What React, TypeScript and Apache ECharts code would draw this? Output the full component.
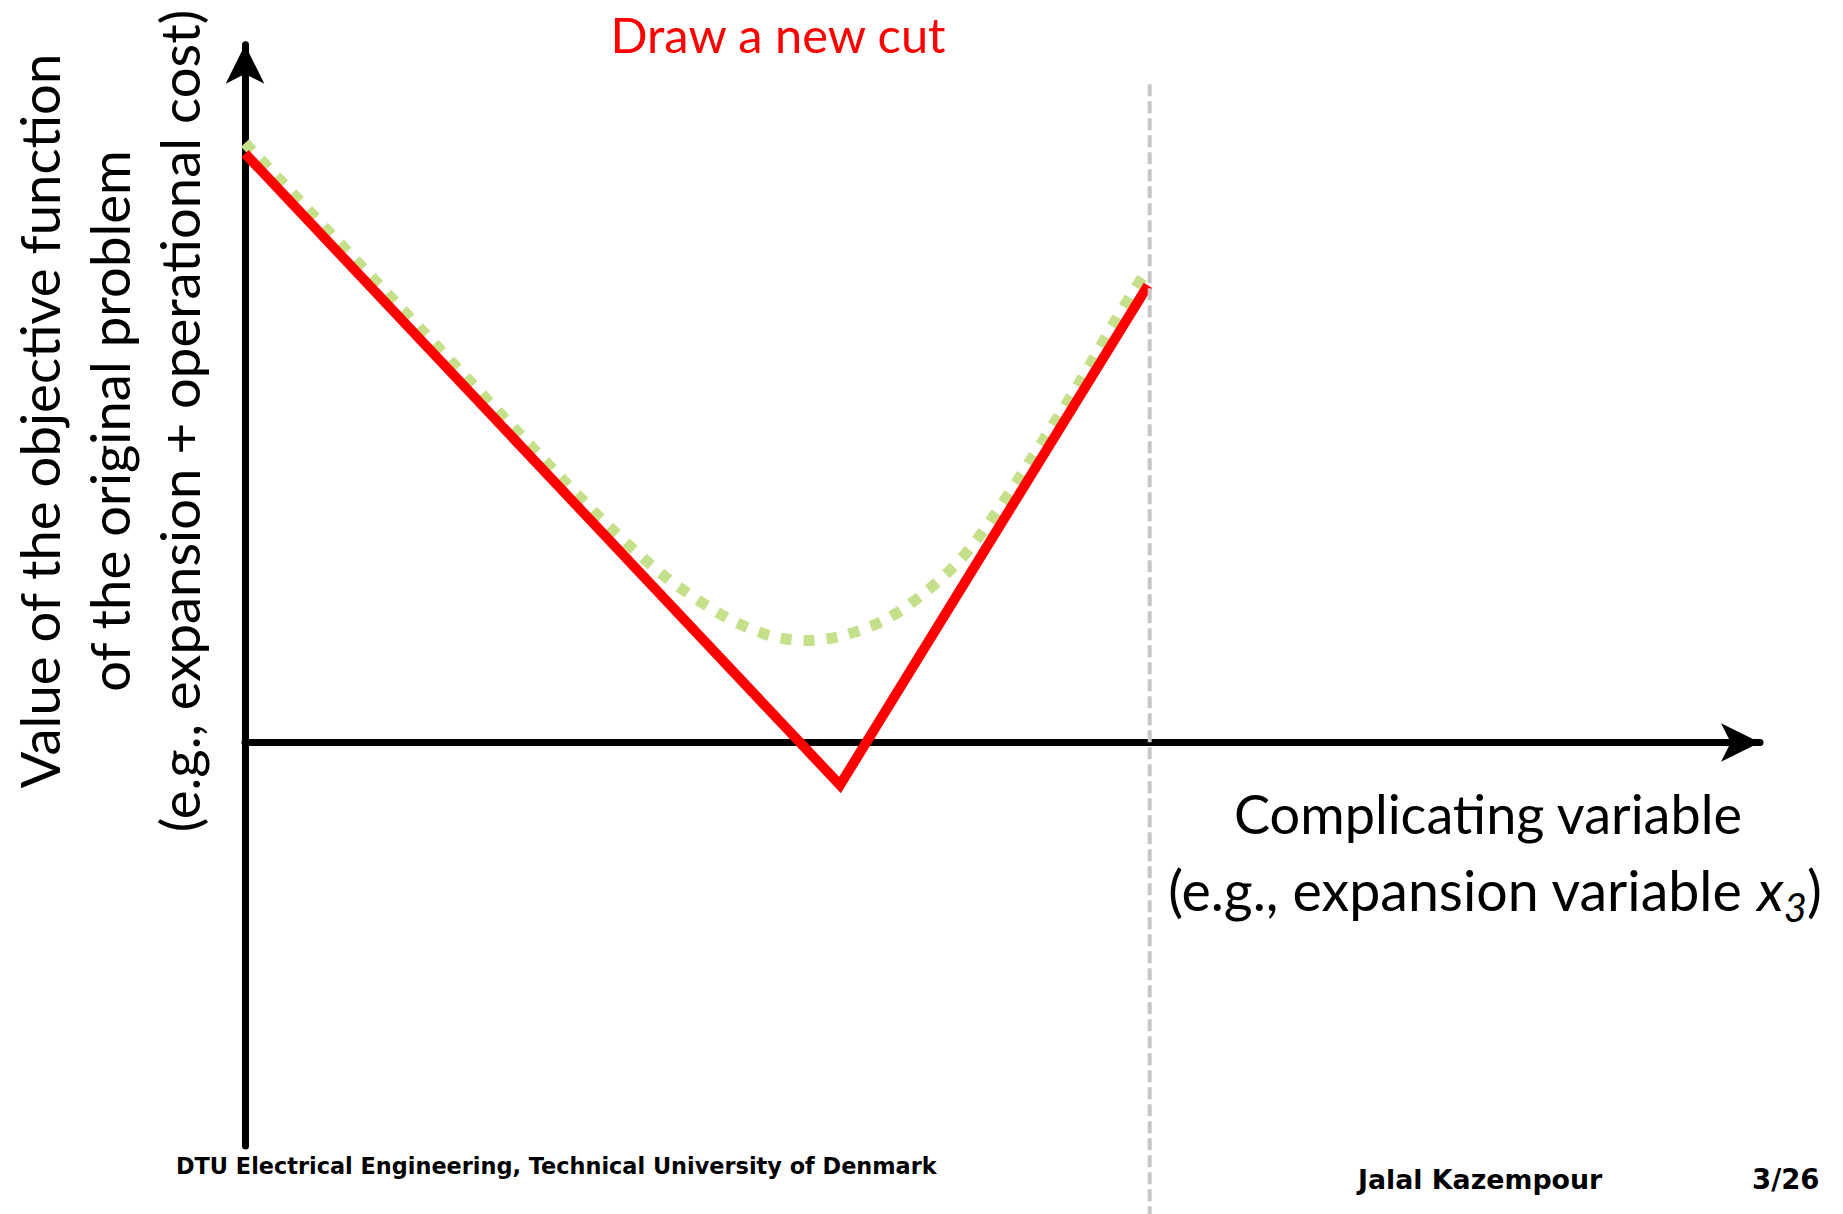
import React, { useEffect, useRef } from "react";
import * as echarts from "echarts";

// Red cut (piecewise linear): [x, y]
const cutX = [0, 5.95, 9.03];
const cutY = [5.89, -0.425, 4.572];

// Green dotted curve (true objective function)
const curveX = [0, 1.55, 3.15, 3.677, 4.21, 4.81, 5.25, 5.6, 5.967, 6.417, 6.81, 7.16, 7.45, 7.85, 8.35, 8.717, 9.02];
const curveY = [5.995, 4.355, 2.658, 2.125, 1.652, 1.252, 1.068, 1.02, 1.065, 1.235, 1.508, 1.835, 2.208, 2.815, 3.608, 4.242, 4.725];

// Gray dashed bound
const boundX = [9.047, 9.047];
const boundY = [6.582, -4.715];

const xRange = [0, 15.15];
const yRange = [-4.035, 6.978];

const titleText = "Draw a new cut";
const yLabelLines = [
  "Value of the objective function",
  "of the original problem",
  "(e.g., expansion + operational cost)",
];
const xLabelLine1 = "Complicating variable";
const xLabelLine2Parts = ["(e.g., expansion variable ", "x", "3", ")"];
const footerLeft = "DTU Electrical Engineering, Technical University of Denmark";
const footerAuthor = "Jalal Kazempour";
const footerPage = "3/26";

const zip = (xs: number[], ys: number[]) => xs.map((x, i) => [x, ys[i]]);

const MAIN_FONT = "Lato, 'Open Sans', sans-serif";
const FOOT_FONT = "'DejaVu Sans', Verdana, sans-serif";

function measure(text: string, font: string): number {
  const c = document.createElement("canvas").getContext("2d");
  if (!c) return text.length * 25;
  c.font = font;
  return c.measureText(text).width;
}

export default function App() {
  const ref = useRef<HTMLDivElement>(null);
  useEffect(() => {
    if (!ref.current) return;
    const chart = echarts.init(ref.current, null, { renderer: "svg" });
    const axisLine = {
      show: true,
      onZero: true,
      symbol: ["none", "arrow"],
      symbolSize: [29, 39],
      lineStyle: { color: "#000000", width: 7 },
    };

    // second x-label line laid out as segments (subscript lowered)
    const segStyles = [
      { size: 55.5, italic: false, dy: 0 },
      { size: 57, italic: true, dy: 0 },
      { size: 40, italic: true, dy: 18 },
      { size: 55.5, italic: false, dy: 0 },
    ];
    const segFonts = segStyles.map(
      (s) => `${s.italic ? "italic " : ""}${s.size}px Lato`
    );
    const segWidths = xLabelLine2Parts.map((t, i) => measure(t, segFonts[i]));
    const total = segWidths.reduce((a, b) => a + b, 0);
    const line2CenterX = 1495;
    const line2Y = 889;
    let cursor = line2CenterX - total / 2;
    const line2Elements = xLabelLine2Parts.map((t, i) => {
      const el = {
        type: "text",
        x: cursor,
        y: line2Y + segStyles[i].dy,
        style: {
          text: t,
          fill: "#000000",
          fontSize: segStyles[i].size,
          fontStyle: segStyles[i].italic ? "italic" : "normal",
          fontFamily: MAIN_FONT,
          align: "left",
          verticalAlign: "middle",
          textAlign: "left",
          textVerticalAlign: "middle",
        },
      };
      cursor += segWidths[i];
      return el;
    });

    chart.setOption({
      animation: false,
      backgroundColor: "#ffffff",
      grid: { left: 245, right: 83, top: 44.7, bottom: 68, containLabel: false },
      xAxis: {
        type: "value",
        min: xRange[0],
        max: xRange[1],
        axisLine,
        axisTick: { show: false },
        axisLabel: { show: false },
        splitLine: { show: false },
      },
      yAxis: {
        type: "value",
        min: yRange[0],
        max: yRange[1],
        axisLine,
        axisTick: { show: false },
        axisLabel: { show: false },
        splitLine: { show: false },
      },
      series: [
        {
          type: "line",
          name: "curve",
          data: zip(curveX, curveY),
          symbol: "none",
          smooth: 0.3,
          z: 2,
          lineStyle: { color: "#c5e08a", width: 11, type: [11, 12], cap: "butt" },
        },
        {
          type: "line",
          name: "cut",
          data: zip(cutX, cutY),
          symbol: "none",
          z: 3,
          lineStyle: { color: "#ff0000", width: 10, join: "miter", cap: "butt" },
        },
        {
          type: "line",
          name: "bound",
          data: zip(boundX, boundY),
          symbol: "none",
          clip: false,
          z: 4,
          lineStyle: { color: "#c6c6c6", width: 4, type: [12, 5] },
        },
      ],
      graphic: [
        {
          type: "text",
          x: 778,
          y: 34,
          style: {
            text: titleText,
            fill: "#ff0000",
            fontSize: 48.8,
            fontFamily: MAIN_FONT,
            align: "center",
            verticalAlign: "middle",
            textAlign: "center",
            textVerticalAlign: "middle",
          },
        },
        {
          type: "text",
          x: 108.5,
          y: 421,
          rotation: Math.PI / 2,
          style: {
            text: yLabelLines.join("\n"),
            fill: "#000000",
            fontSize: 54.5,
            lineHeight: 70,
            fontFamily: MAIN_FONT,
            align: "center",
            verticalAlign: "middle",
            textAlign: "center",
            textVerticalAlign: "middle",
          },
        },
        {
          type: "text",
          x: 1488,
          y: 813,
          style: {
            text: xLabelLine1,
            fill: "#000000",
            fontSize: 54,
            fontFamily: MAIN_FONT,
            align: "center",
            verticalAlign: "middle",
            textAlign: "center",
            textVerticalAlign: "middle",
          },
        },
        ...line2Elements,
        {
          type: "text",
          x: 176,
          y: 1166,
          style: {
            text: footerLeft,
            fill: "#000000",
            fontSize: 22.4,
            fontWeight: "bold",
            fontFamily: FOOT_FONT,
            align: "left",
            verticalAlign: "middle",
            textAlign: "left",
            textVerticalAlign: "middle",
          },
        },
        {
          type: "text",
          x: 1358,
          y: 1179,
          style: {
            text: footerAuthor,
            fill: "#000000",
            fontSize: 26.8,
            fontWeight: "bold",
            fontFamily: FOOT_FONT,
            align: "left",
            verticalAlign: "middle",
            textAlign: "left",
            textVerticalAlign: "middle",
          },
        },
        {
          type: "text",
          x: 1819.5,
          y: 1179,
          style: {
            text: footerPage,
            fill: "#000000",
            fontSize: 27.5,
            fontWeight: "bold",
            fontFamily: FOOT_FONT,
            align: "right",
            verticalAlign: "middle",
            textAlign: "right",
            textVerticalAlign: "middle",
          },
        },
      ],
    });
    return () => chart.dispose();
  }, []);
  return (
    <div
      ref={ref}
      style={{ position: "fixed", left: 0, top: 0, width: 1843, height: 1214, background: "#ffffff" }}
    />
  );
}
